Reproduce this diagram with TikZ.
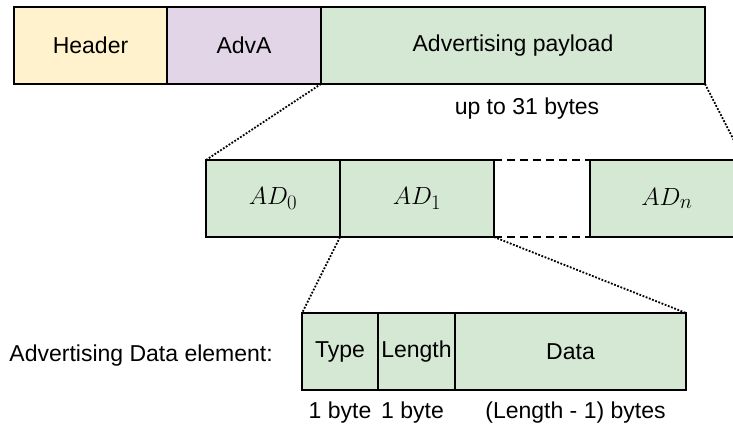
\documentclass[tikz,border=0pt]{standalone}
\usepackage{fontspec}
\setmainfont{Liberation Sans}
\usetikzlibrary{positioning}
\definecolor{hdrfill}{HTML}{FFF2CC}
\definecolor{advfill}{HTML}{E1D5E7}
\definecolor{adfill}{HTML}{D5E8D4}
\tikzset{
  field/.style={draw, line width=1.8pt, inner sep=0pt, outer sep=0pt, anchor=north west,
    minimum height=77pt, font=\fontsize{23}{27}\selectfont},
  adfield/.style={field, fill=adfill, font=\fontsize{28}{33}\selectfont},
  lbl/.style={inner sep=0pt, font=\fontsize{23}{27}\selectfont},
  zoomline/.style={line width=1.8pt, dash pattern=on 1.8pt off 1.6pt},
  gapline/.style={line width=1.8pt, dash pattern=on 8pt off 5pt}
}
\begin{document}
\begin{tikzpicture}[x=1pt, y=-1pt]
\clip (0,0) rectangle (733,426);
\node[field, fill=hdrfill, minimum width=153pt] (hdr) at (14,7) {Header};
\node[field, fill=advfill, minimum width=154pt] (adva) [right=0pt of hdr] {AdvA};
\node[field, fill=adfill, minimum width=384pt] (pay) [right=0pt of adva] {Advertising payload};
\node[lbl] (paylen) [below=14pt of pay, xshift=14pt] {up to 31 bytes};

\node[adfield, minimum width=134pt] (ad0) at (206,160) {$AD_0$};
\node[adfield, minimum width=154pt] (ad1) [right=0pt of ad0] {$AD_1$};
\node[adfield, minimum width=154pt] (adn) at (590,160) {$AD_n$};

\node[field, fill=adfill, minimum width=76pt] (typ) at (302,313) {Type};
\node[field, fill=adfill, minimum width=77pt] (len) [right=0pt of typ] {Length};
\node[field, fill=adfill, minimum width=231pt] (dat) [right=0pt of len] {Data};
\node[lbl] (elem) [left=29pt of typ, yshift=-4pt] {Advertising Data element:};
\node[lbl] (typlen) [below=12pt of typ] {1 byte};
\node[lbl] (lenlen) [below=12pt of len, xshift=-4pt] {1 byte};
\node[lbl] (datlen) [below=12pt of dat, xshift=5pt] {(Length - 1) bytes};

\draw[gapline] (ad1.north east) -- (adn.north west)
  (ad1.south east) -- (adn.south west);
\draw[zoomline] (pay.south west) -- (ad0.north west)
  (pay.south east) -- (adn.north east)
  (ad1.south west) -- (typ.north west)
  (ad1.south east) -- (dat.north east);
\end{tikzpicture}
\end{document}
